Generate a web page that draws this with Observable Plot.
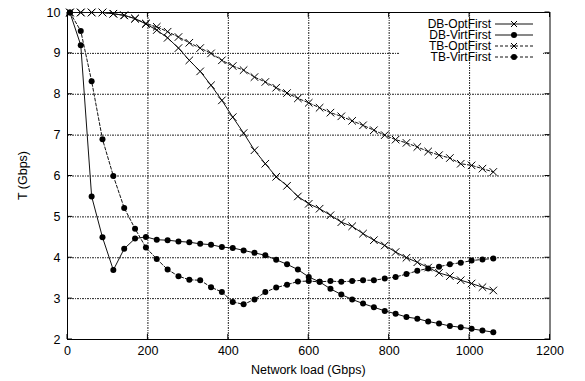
<!DOCTYPE html>
<html><head><meta charset="utf-8">
<script src="https://cdn.jsdelivr.net/npm/d3@7"></script>
<script src="https://cdn.jsdelivr.net/npm/@observablehq/plot@0.6"></script>
<style>body{margin:0;background:#fff} svg{display:block}</style>
</head><body><div id="chart"></div>
<script>
const load = [6,33,60,87,114,141,168,195,222,249,276,303,330,357,384,411,438,465,492,519,546,573,600,627,654,681,708,735,762,789,816,843,870,897,924,951,978,1005,1032,1059];
const dbOpt = [10,10,10,10,9.97,9.93,9.85,9.72,9.57,9.38,9.13,8.83,8.56,8.22,7.85,7.44,7.05,6.63,6.30,5.98,5.76,5.50,5.32,5.20,5.04,4.87,4.77,4.59,4.43,4.30,4.14,4.00,3.89,3.76,3.63,3.55,3.45,3.37,3.28,3.20];
const dbVirt = [10,9.2,5.5,4.5,3.7,4.22,4.47,4.51,4.44,4.43,4.40,4.38,4.34,4.32,4.26,4.24,4.18,4.12,4.06,3.95,3.84,3.71,3.53,3.41,3.24,3.10,2.98,2.88,2.79,2.70,2.63,2.55,2.51,2.44,2.39,2.33,2.30,2.26,2.22,2.18];
const tbOpt = [10,10,10,10,9.97,9.93,9.85,9.73,9.65,9.53,9.40,9.26,9.13,9.00,8.83,8.69,8.59,8.42,8.30,8.16,8.03,7.90,7.79,7.67,7.55,7.46,7.35,7.24,7.12,7.00,6.89,6.81,6.71,6.60,6.51,6.44,6.30,6.26,6.18,6.10];
const tbVirt = [10,9.55,8.32,6.90,6.00,5.22,4.71,4.25,3.97,3.71,3.55,3.46,3.45,3.28,3.16,2.92,2.86,2.98,3.16,3.27,3.34,3.42,3.43,3.41,3.43,3.41,3.43,3.45,3.45,3.49,3.53,3.60,3.68,3.74,3.78,3.84,3.88,3.93,3.96,3.98];
const seriesNames = ["DB-OptFirst","DB-VirtFirst","TB-OptFirst","TB-VirtFirst"];
const xTicks = [0,200,400,600,800,1000,1200];
const yTicks = [2,3,4,5,6,7,8,9,10];
const xLabel = "Network load (Gbps)";
const yLabel = "T (Gbps)";

const seriesValues = [dbOpt, dbVirt, tbOpt, tbVirt];
const rows = seriesNames.flatMap((s, i) => seriesValues[i].map((v, k) => ({series: s, load: load[k], t: v})));
const of = s => rows.filter(d => d.series === s);
const dashed = "3,2";
const gridDash = "2,1,1,1";
const font = "'Liberation Sans', Arial, sans-serif";

const plot = Plot.plot({
  width: 585, height: 381,
  marginLeft: 67, marginRight: 35.5, marginTop: 12, marginBottom: 42,
  style: {fontFamily: font, fontSize: "12.5px", color: "#000", background: "#fff"},
  x: {domain: [0, 1200], ticks: xTicks, tickSize: 0, tickPadding: 7, tickFormat: "d", label: null},
  y: {domain: [2, 10], ticks: yTicks, tickSize: 0, tickPadding: 7, tickFormat: "d", label: null},
  marks: [
    Plot.gridY(yTicks.slice(1, -1), {stroke: "#222", strokeOpacity: 1, strokeDasharray: gridDash}),
    Plot.gridX(xTicks.slice(1, -1), {stroke: "#222", strokeOpacity: 1, strokeDasharray: gridDash}),
    Plot.frame({stroke: "#000"}),
    Plot.line(of("DB-OptFirst"), {x: "load", y: "t", stroke: "#111", strokeWidth: 1}),
    Plot.line(of("DB-VirtFirst"), {x: "load", y: "t", stroke: "#111", strokeWidth: 1}),
    Plot.line(of("TB-OptFirst"), {x: "load", y: "t", stroke: "#111", strokeWidth: 1, strokeDasharray: dashed}),
    Plot.line(of("TB-VirtFirst"), {x: "load", y: "t", stroke: "#111", strokeWidth: 1, strokeDasharray: dashed}),
    Plot.dot(of("DB-OptFirst"), {x: "load", y: "t", symbol: "times", r: 3.5, stroke: "#000", strokeWidth: 1}),
    Plot.dot(of("TB-OptFirst"), {x: "load", y: "t", symbol: "times", r: 3.5, stroke: "#000", strokeWidth: 1}),
    Plot.dot(of("DB-VirtFirst"), {x: "load", y: "t", r: 3, fill: "#000", stroke: "none"}),
    Plot.dot(of("TB-VirtFirst"), {x: "load", y: "t", r: 3, fill: "#000", stroke: "none"})
  ]
});
document.getElementById("chart").appendChild(plot);

const svg = d3.select(plot);
const sx = plot.scale("x"), sy = plot.scale("y");
const fx = d3.scaleLinear(sx.domain, sx.range), fy = d3.scaleLinear(sy.domain, sy.range);
const [x0, x1] = sx.range, [y0, y1] = sy.range; // y0 bottom, y1 top

// key box hides the horizontal grid behind the legend (gnuplot style)
const xgrid = plot.querySelector('g[aria-label="x-grid"]');
const blank = document.createElementNS("http://www.w3.org/2000/svg", "rect");
blank.setAttribute("x", 400); blank.setAttribute("y", 16);
blank.setAttribute("width", 143); blank.setAttribute("height", 48);
blank.setAttribute("fill", "#fff");
if (xgrid) xgrid.parentNode.insertBefore(blank, xgrid);

// inward ticks on all sides
const tk = svg.append("g").attr("stroke", "#000").attr("stroke-width", 1);
xTicks.forEach(v => {
  const px = fx(v);
  tk.append("line").attr("x1", px).attr("x2", px).attr("y1", y0).attr("y2", y0 - 5);
  tk.append("line").attr("x1", px).attr("x2", px).attr("y1", y1).attr("y2", y1 + 5);
});
yTicks.forEach(v => {
  const py = fy(v);
  tk.append("line").attr("x1", x0).attr("x2", x0 + 5).attr("y1", py).attr("y2", py);
  tk.append("line").attr("x1", x1).attr("x2", x1 - 5).attr("y1", py).attr("y2", py);
});

// axis titles
svg.append("text").attr("x", (x0 + x1) / 2).attr("y", 374).attr("text-anchor", "middle")
  .attr("font-family", font).attr("font-size", "12.5px").text(xLabel);
svg.append("text").attr("transform", `translate(27,${(y0 + y1) / 2}) rotate(-90)`).attr("text-anchor", "middle")
  .attr("font-family", font).attr("font-size", "12.5px").text(yLabel);

// legend
const lg = svg.append("g").attr("font-family", font).attr("font-size", "12px");
const rowsY = [24, 35, 46, 57];
seriesNames.forEach((s, i) => {
  const yy = rowsY[i];
  lg.append("text").attr("x", 491).attr("y", yy).attr("dy", "0.35em").attr("text-anchor", "end").text(s);
  lg.append("line").attr("x1", 495).attr("x2", 533).attr("y1", yy).attr("y2", yy)
    .attr("stroke", "#111").attr("stroke-dasharray", i >= 2 ? dashed : null);
  if (i % 2 === 0) {
    lg.append("path").attr("d", `M${511},${yy - 3}L${517},${yy + 3}M${511},${yy + 3}L${517},${yy - 3}`)
      .attr("stroke", "#000").attr("fill", "none");
  } else {
    lg.append("circle").attr("cx", 514).attr("cy", yy).attr("r", 3).attr("fill", "#000");
  }
});
</script>
</body></html>
